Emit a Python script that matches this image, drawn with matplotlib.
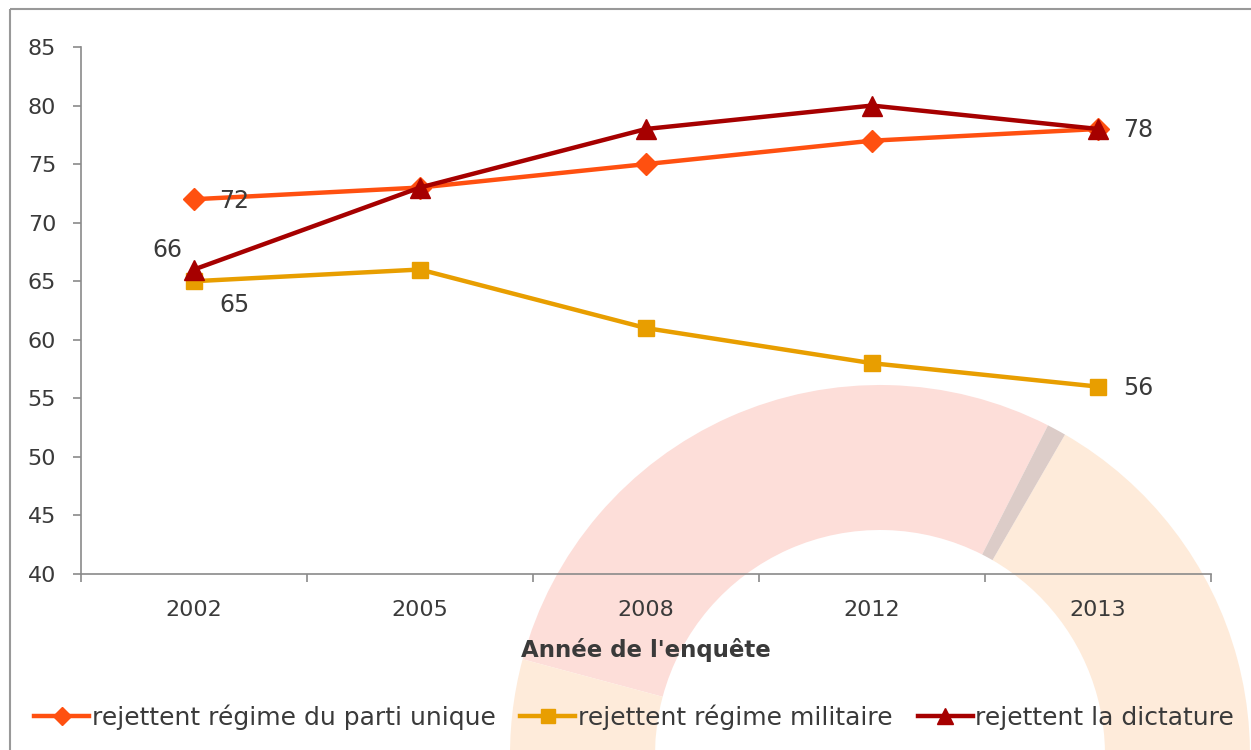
import matplotlib
matplotlib.use("Agg")
import matplotlib.pyplot as plt
from matplotlib.patches import Wedge, Rectangle
from matplotlib.ticker import FixedLocator

plt.rcParams['font.family'] = ['DejaVu Sans']

years = ["2002", "2005", "2008", "2012", "2013"]
parti_unique = [72, 73, 75, 77, 78]
militaire = [65, 66, 61, 58, 56]
dictature = [66, 73, 78, 80, 78]
series_names = ["rejettent régime du parti unique", "rejettent régime militaire",
                "rejettent la dictature"]
xlabel = "Année de l'enquête"

c_pu = "#FF5010"
c_mil = "#E89E00"
c_dic = "#A60000"
txt = "#3a3a3a"
gray = "#8a8a8a"

W, H = 1251, 750
fig = plt.figure(figsize=(W / 100, H / 100), dpi=100)

# background watermark layer (pixel coordinates)
bg = fig.add_axes([0, 0, 1, 1], zorder=0)
bg.set_xlim(0, W)
bg.set_ylim(H, 0)
bg.axis("off")
cx, cy, ro, ri = 880, 755, 370, 225
bg.add_patch(Wedge((cx, cy), ro, -165, -63, width=ro - ri, facecolor="#FDDED9", edgecolor="none"))
bg.add_patch(Wedge((cx, cy), ro, -60, 30, width=ro - ri, facecolor="#FEEBDA", edgecolor="none"))
bg.add_patch(Wedge((cx, cy), ro, -200, -165, width=ro - ri, facecolor="#FEEBDA", edgecolor="none"))
bg.add_patch(Wedge((cx, cy), ro, -63, -60, width=ro - ri, facecolor="#DCCCC8", edgecolor="none"))
# outer frame
bg.add_patch(Rectangle((10, 9), 1260, 760, facecolor="none", edgecolor="#999999", linewidth=1.5))

ax = fig.add_axes([81 / W, 1 - 574 / H, (1211 - 81) / W, (574 - 47) / H], zorder=1)
ax.patch.set_alpha(0)

x = list(range(len(years)))
ax.plot(x, parti_unique, color=c_pu, lw=3.2, marker="D", ms=11, label=series_names[0], zorder=3)
ax.plot(x, militaire, color=c_mil, lw=3.2, marker="s", ms=12, label=series_names[1], zorder=3)
ax.plot(x, dictature, color=c_dic, lw=3.2, marker="^", ms=14, label=series_names[2], zorder=4)

ax.set_xlim(-0.5, len(years) - 0.5)
ax.set_ylim(40, 85)
ax.set_yticks(range(40, 90, 5))
ax.set_xticks(x)
ax.set_xticklabels(years)
ax.xaxis.set_minor_locator(FixedLocator([i - 0.5 for i in range(len(years) + 1)]))
ax.tick_params(axis="x", which="major", length=0, pad=19, labelsize=16, labelcolor=txt)
ax.tick_params(axis="x", which="minor", length=6, width=1.2, color=gray)
ax.tick_params(axis="y", which="major", length=6, width=1.2, color=gray, pad=12, labelsize=16, labelcolor=txt)
for s in ["top", "right"]:
    ax.spines[s].set_visible(False)
for s in ["left", "bottom"]:
    ax.spines[s].set_color(gray)
    ax.spines[s].set_linewidth(1.2)

def lab(xi, yi, dx, dy):
    ax.annotate(str(yi), (xi, yi), xytext=(dx, dy), textcoords="offset points",
                ha="center", va="center", fontsize=17, color=txt, zorder=5)

lab(0, parti_unique[0], 29, -1)
lab(4, parti_unique[4], 29, -1)
lab(0, militaire[0], 29, -17)
lab(4, militaire[4], 29, -1)
lab(0, dictature[0], -19, 14)

fig.text(646 / W, 1 - 650 / H, xlabel, ha="center", va="center", fontsize=16.5,
         fontweight="bold", color=txt)

handles, labels = ax.get_legend_handles_labels()
leg = fig.legend(handles, labels, loc="center", bbox_to_anchor=(634 / W, 1 - 717 / H), ncol=3,
                 frameon=False, fontsize=18, handlelength=2.2, handletextpad=0.1,
                 columnspacing=1.0, labelcolor=txt, markerscale=0.85)

fig.savefig("out.png", dpi=100)
